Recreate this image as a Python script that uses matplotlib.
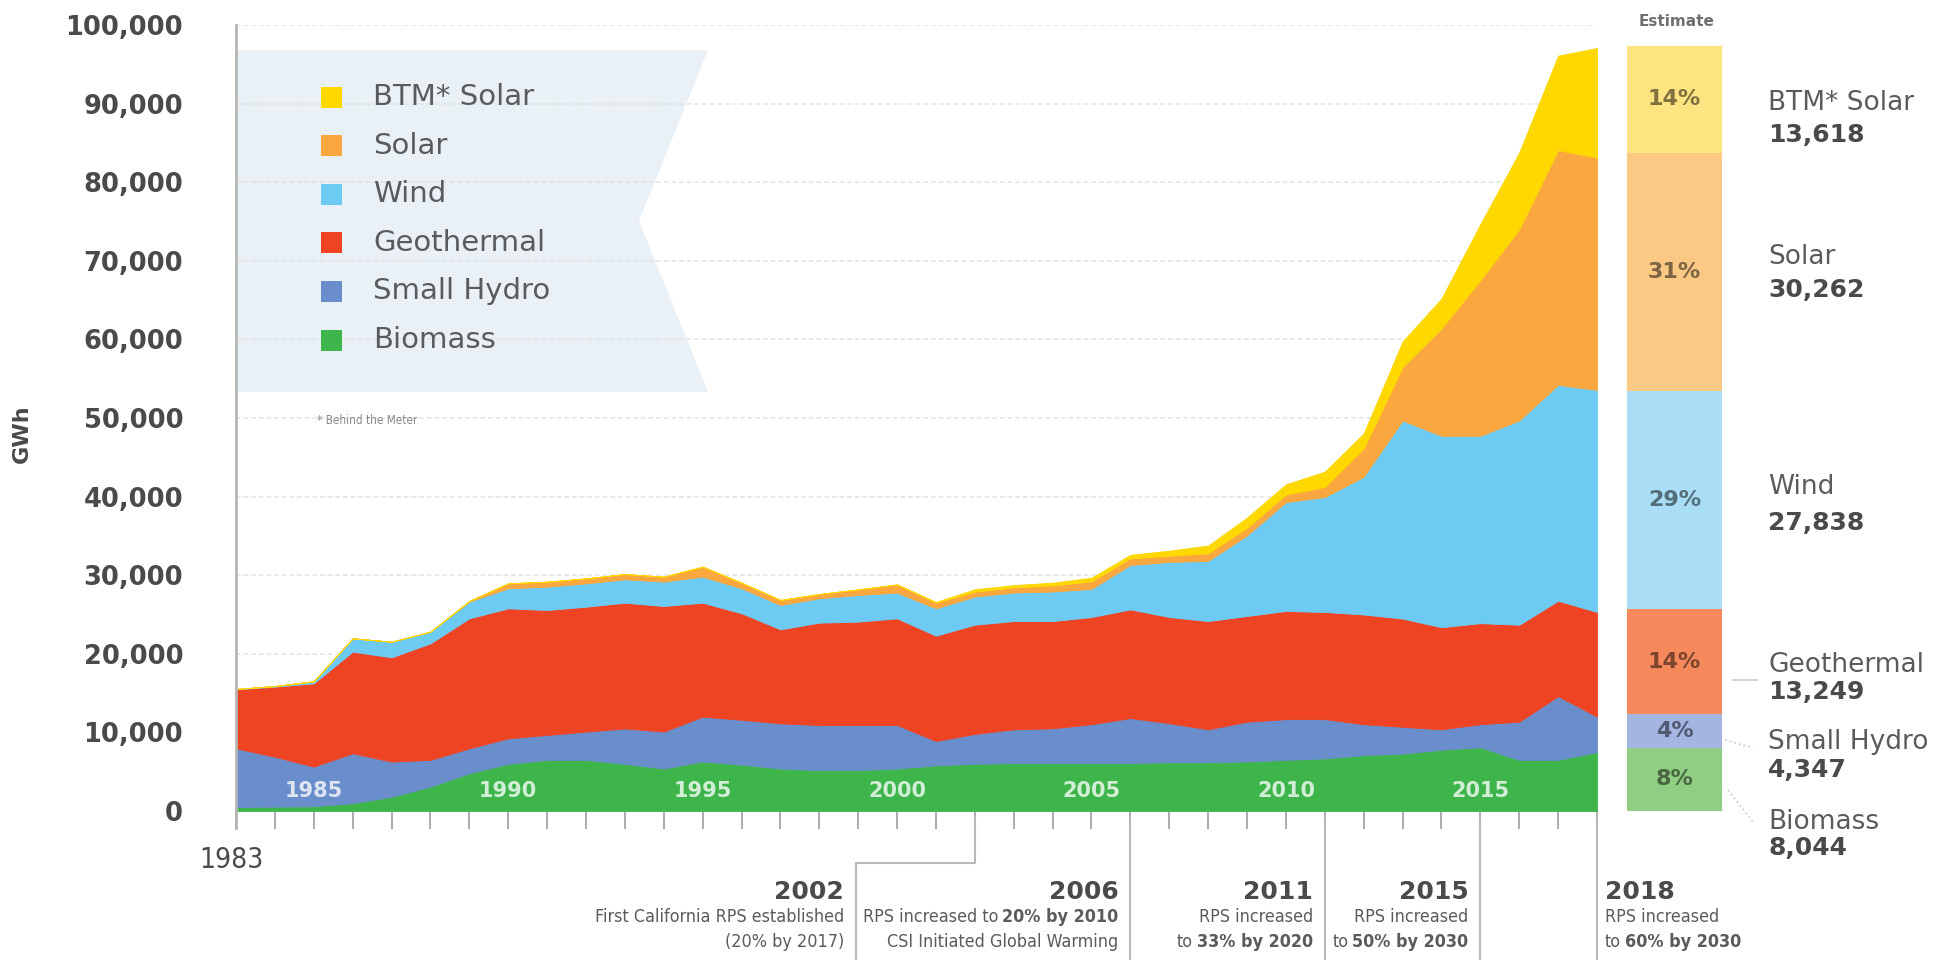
import matplotlib

matplotlib.use("Agg")
import matplotlib.font_manager as fm  # noqa: E402
import matplotlib.pyplot as plt  # noqa: E402
import numpy as np  # noqa: E402
from matplotlib.lines import Line2D  # noqa: E402
from matplotlib.patches import Polygon, Rectangle  # noqa: E402

W, H = 1941, 960

# ---- data (GWh) ----
YEARS = list(range(1983, 2019))
BIOMASS = [500, 550, 600, 1000, 1800, 3100, 4800, 6000, 6500, 6500, 6000, 5400,
           6300, 5900, 5400, 5200, 5200, 5400, 5800, 6000, 6100, 6100, 6100, 6100,
           6200, 6200, 6300, 6500, 6700, 7100, 7300, 7800, 8100, 6500, 6500, 7500]
SMALL_HYDRO = [7470, 6350, 5040, 6340, 4480, 3400, 3170, 3250, 3170, 3600, 4500,
               4700, 5700, 5700, 5750, 5740, 5740, 5540, 3100, 3800, 4290, 4420,
               4940, 5720, 4970, 4190, 5060, 5190, 4990, 3940, 3410, 2590, 2940,
               4860, 8110, 4510]
GEOTHERMAL = [7510, 8920, 10600, 12930, 13270, 14830, 16540, 16530, 15900, 15890,
              16000, 15980, 14500, 13550, 11960, 13020, 13150, 13570, 13400, 13900,
              13770, 13640, 13640, 13830, 13510, 13770, 13450, 13760, 13630, 13960,
              13770, 12990, 12860, 12340, 12140, 13310]
WIND = [50, 80, 260, 1700, 1990, 1490, 2120, 2550, 2970, 2970, 2970, 3100, 3310,
        3180, 3100, 3100, 3390, 3270, 3480, 3570, 3630, 3760, 3570, 5650, 7010,
        7660, 10250, 13840, 14620, 17530, 25200, 24350, 23830, 25980, 27470, 28250]
SOLAR = [0, 0, 0, 0, 0, 0, 100, 640, 640, 640, 680, 630, 1280, 720, 640, 550, 720,
         1050, 730, 640, 650, 780, 970, 840, 780, 970, 980, 970, 1290, 3570, 6810,
         13670, 19800, 24350, 29870, 29550]
BTM_SOLAR = [0, 0, 0, 0, 0, 0, 0, 0, 0, 0, 0, 0, 0, 0, 0, 0, 0, 0, 100, 300, 300,
             350, 460, 460, 650, 980, 1300, 1300, 1950, 1950, 3250, 3800, 7150,
             9740, 12010, 13960]

SERIES = ["Biomass", "Small Hydro", "Geothermal", "Wind", "Solar", "BTM* Solar"]
ESTIMATE_2018 = [8044, 4347, 13249, 27838, 30262, 13618]

Y_TICKS = list(range(0, 100001, 10000))
YEAR_LABELS = [1985, 1990, 1995, 2000, 2005, 2010, 2015]

EVENT_YEARS = [2002, 2006, 2011, 2015, 2018]
EVENT_LINES = [
    [("First California RPS established", ""), ("(20% by 2017)", "")],
    [("RPS increased to", "20% by 2010"), ("CSI Initiated Global Warming", "")],
    [("RPS increased", ""), ("to", "33% by 2020")],
    [("RPS increased", ""), ("to", "50% by 2030")],
    [("RPS increased", ""), ("to", "60% by 2030")],
]

# ---- styling ----
COLORS = ["#3db54a", "#6a8dcc", "#ee4423", "#6dcaf2", "#f9a73e", "#ffd800"]
BAR_COLORS = ["#8fce83", "#a4b5e2", "#f6895c", "#a9def6", "#fcc985", "#fde480"]
DARK = "#4a4a4c"
MID = "#5a5b5d"
LINE = "#b8b8b8"
plt.rcParams["font.family"] = "DejaVu Sans"

# a narrow face for the small annotation text, if one is installed
NARROW = {"family": "Liberation Sans"}
for f in fm.fontManager.ttflist:
    st = str(f.stretch)
    if "Narrow" in f.name or "Condensed" in f.name or "condensed" in st:
        NARROW = {"family": f.name, "fontstretch": f.stretch}
        if "Sans" in f.name:
            break


def fx(px):
    return px / W


def fy(py):
    return 1 - py / H


fig = plt.figure(figsize=(W / 100, H / 100), dpi=100)
fig.patch.set_facecolor("white")
renderer = fig.canvas.get_renderer()


def fit_size(text, width_px, base=15, **kw):
    t = fig.text(0, 0, text, fontsize=base, **kw)
    w = t.get_window_extent(renderer).width
    t.remove()
    return base * width_px / w


DESC_SIZE = fit_size("First California RPS established", 249, **NARROW)

ax = fig.add_axes([fx(236), fy(811), (1597 - 236) / W, (811 - 25) / H])
ax.set_xlim(1983, 2018)
ax.set_ylim(0, 100000)
ax.patch.set_visible(False)

# legend ribbon behind everything
ax.add_patch(Polygon([(fx(238), fy(50)), (fx(708), fy(50)), (fx(639), fy(221)),
                      (fx(708), fy(392)), (fx(238), fy(392))],
                     closed=True, transform=fig.transFigure, facecolor="#e9f0f6",
                     edgecolor="none", zorder=0.5, clip_on=False))

for v in Y_TICKS[1:]:
    ax.axhline(v, color="#e2e2e2", lw=1.1, ls=(0, (3, 2)), zorder=0.8)

polys = ax.stackplot(YEARS, BIOMASS, SMALL_HYDRO, GEOTHERMAL, WIND, SOLAR,
                     BTM_SOLAR, colors=COLORS, zorder=2)
for p, c in zip(polys, COLORS):
    p.set_edgecolor(c)
    p.set_linewidth(0.6)

for yr in YEAR_LABELS:
    ax.text(yr, 2500, str(yr), ha="center", va="center", color="white",
            alpha=0.78, fontsize=15, fontweight="bold", zorder=5)

ax.set_yticks(Y_TICKS)
ax.set_yticklabels([f"{v:,}" for v in Y_TICKS])
for lab in ax.get_yticklabels():
    lab.set_fontweight("bold")
ax.tick_params(axis="y", length=0, pad=38, labelsize=18.5, labelcolor=DARK)
ax.set_xticks(YEARS)
ax.set_xticklabels([])
ax.tick_params(axis="x", length=13, width=1.3, color="#a5a5a5", direction="out")
for s in ("top", "right", "bottom"):
    ax.spines[s].set_visible(False)
ax.spines["left"].set_color("#b5b5b5")
ax.spines["left"].set_linewidth(2)
ax.plot([1983, 1983], [-2200, 0], color="#b5b5b5", lw=2, clip_on=False)

fig.text(fx(22), fy(434), "GWh", rotation=90, ha="center", va="center",
         fontsize=16, fontweight="bold", color=DARK)
fig.text(fx(231), fy(860), "1983", ha="center", va="center",
         fontsize=fit_size("1983", 64, **NARROW), color=DARK, **NARROW)

# ---- legend entries ----
for i, (name, col) in enumerate(zip(SERIES[::-1], COLORS[::-1])):
    y = 97 + i * 48.6
    fig.add_artist(Rectangle((fx(320.5), fy(y + 10.5)), 21 / W, 21 / H,
                             transform=fig.transFigure, facecolor=col,
                             edgecolor="none"))
    fig.text(fx(373), fy(y), name, ha="left", va="center", fontsize=21,
             color=MID)
fig.text(fx(317), fy(421), "* Behind the Meter", ha="left", va="center",
         fontsize=fit_size("* Behind the Meter", 100, **NARROW),
         color="#8a8a8a", **NARROW)

# ---- 2018 estimate bar ----
ax2 = fig.add_axes([fx(1627), fy(811), 95 / W, (811 - 25) / H])
ax2.set_xlim(-0.5, 0.5)
ax2.set_ylim(0, 100000)
ax2.axis("off")
bottoms = np.concatenate([[0], np.cumsum(ESTIMATE_2018)[:-1]])
ax2.bar([0] * len(ESTIMATE_2018), ESTIMATE_2018, bottom=bottoms, width=1,
        color=BAR_COLORS, edgecolor="none")
total = sum(ESTIMATE_2018)
for v, b in zip(ESTIMATE_2018, bottoms):
    ax2.text(0, b + v / 2, f"{round(v / total * 100)}%", ha="center",
             va="center", fontsize=16, fontweight="bold", color=(0, 0, 0, 0.5))
fig.text(fx(1677), fy(21), "Estimate", ha="center", va="center", fontsize=11,
         fontweight="bold", color="#6d6e70")

LABEL_Y = [(822, 848), (742, 770), (665, 692), (487, 523), (257, 290), (103, 135)]
for name, v, (yn, yv) in zip(SERIES, ESTIMATE_2018, LABEL_Y):
    fig.text(fx(1768), fy(yn), name, ha="left", va="center", fontsize=19,
             color=MID)
    fig.text(fx(1768), fy(yv), f"{v:,}", ha="left", va="center", fontsize=18,
             fontweight="bold", color=DARK)
for (x0, y0, x1, y1, ls) in [(1733, 680, 1757, 680, "-"),
                             (1725, 740, 1753, 748, ":"),
                             (1728, 790, 1753, 822, ":")]:
    fig.add_artist(Line2D([fx(x0), fx(x1)], [fy(y0), fy(y1)],
                          transform=fig.transFigure, color="#cfcfcf", lw=1.3,
                          ls=ls))

# ---- policy events along the bottom ----
GAP = 4


def mixed(x, y, regular, bold, ha):
    kw = dict(va="center", fontsize=DESC_SIZE, color=MID, **NARROW)
    if ha == "right":
        if bold:
            t = fig.text(fx(x), fy(y), bold, ha="right", fontweight="bold", **kw)
            x -= t.get_window_extent(renderer).width + GAP
        if regular:
            fig.text(fx(x), fy(y), regular, ha="right", **kw)
    else:
        if regular:
            t = fig.text(fx(x), fy(y), regular, ha="left", **kw)
            x += t.get_window_extent(renderer).width + GAP
        if bold:
            fig.text(fx(x), fy(y), bold, ha="left", fontweight="bold", **kw)


for yr, lines in zip(EVENT_YEARS, EVENT_LINES):
    xl = ax.transData.transform((yr, 0))[0]
    if yr == 2002:
        xs, ys = [xl, xl, xl - 119, xl - 119], [818, 863, 863, 960]
        anchor = xl - 119
    else:
        xs, ys = [xl, xl], [818, 960]
        anchor = xl
    fig.add_artist(Line2D([fx(v) for v in xs], [fy(v) for v in ys],
                          transform=fig.transFigure, color=LINE, lw=1.5))
    ha = "left" if yr == 2018 else "right"
    xt = anchor + 8 if ha == "left" else anchor - 12
    fig.text(fx(xt), fy(892), str(yr), ha=ha, va="center", fontsize=18,
             fontweight="bold", color=DARK)
    for (reg, bold), y in zip(lines, (917, 942)):
        mixed(xt, y, reg, bold, ha)

fig.savefig("out.png", dpi=100, facecolor="white")
